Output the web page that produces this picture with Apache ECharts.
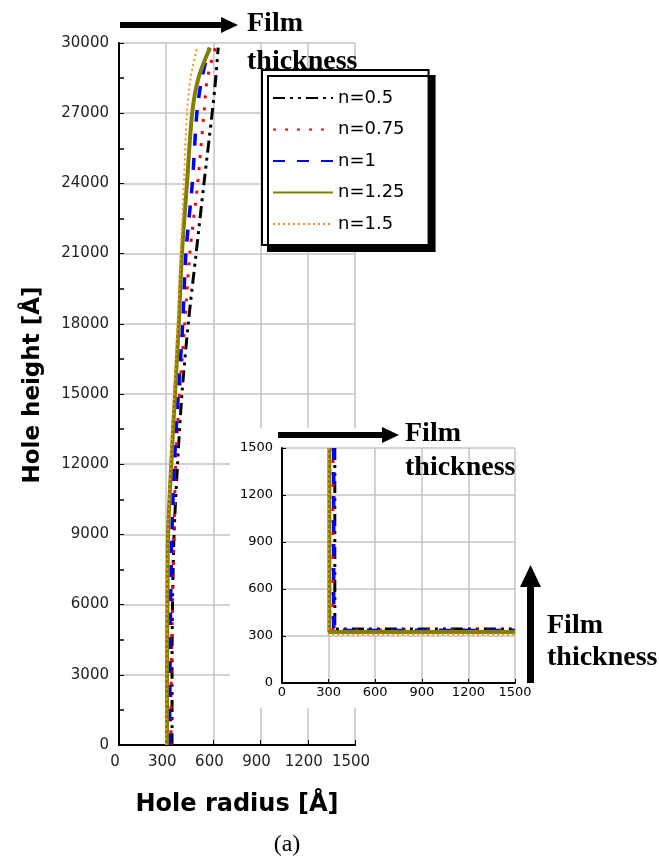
<!DOCTYPE html>
<html>
<head>
<meta charset="utf-8">
<script src="https://cdn.jsdelivr.net/npm/echarts@6/dist/echarts.min.js"></script>
<style>
  html, body { margin: 0; padding: 0; background: #fff; }
  #chart { width: 659px; height: 857px; }
</style>
</head>
<body>
<div id="chart"></div>
<script>
// main plot: hole height (Å) vs hole radius (Å) for each n
const heights = [0, 3000, 6000, 9000, 12000, 15000, 18000, 21000, 24000, 27000, 28500, 29800];
const radiusN05 = [337, 337, 340, 350, 372, 400, 440, 490, 540, 592, 615, 630];
const radiusN075 = [330, 332, 340, 350, 360, 385, 418, 450, 500, 540, 562, 612];
const radiusN1 = [322, 324, 328, 336, 352, 377, 405, 425, 466, 495, 527, 575];
const radiusN125 = [305, 305, 308, 312, 332, 356, 380, 400, 432, 465, 505, 578];
const radiusN15 = [300, 302, 305, 310, 328, 350, 372, 392, 412, 432, 455, 496];

// inset: wall radius and floor height for each n
const insetTop = 1500;
const insetWall = [340, 328, 333, 305, 300];
const insetFloor = [345, 338, 335, 325, 310];

const names = ['n=0.5', 'n=0.75', 'n=1', 'n=1.25', 'n=1.5'];
const mainRadius = [radiusN05, radiusN075, radiusN1, radiusN125, radiusN15];
const xTicks = [0, 300, 600, 900, 1200, 1500];

const styles = [
    { color: '#000000', width: 3, type: [12, 5, 3, 5, 3, 5] },
    { color: '#ff0000', width: 3, type: [3, 9] },
    { color: '#0000ff', width: 3.5, type: [12, 12] },
    { color: '#808000', width: 4, type: 'solid' },
    { color: '#ff8c1a', width: 2, type: [2, 3] }
];

const chart = echarts.init(document.getElementById('chart'));

const series = [];
names.forEach((name, i) => {
    series.push({
        name: name,
        type: 'line',
        xAxisIndex: 0,
        yAxisIndex: 0,
        symbol: 'none',
        smooth: 0.3,
        color: styles[i].color,
        lineStyle: styles[i],
        data: heights.map((h, k) => [mainRadius[i][k], h]),
        z: 2
    });
});
names.forEach((name, i) => {
    series.push({
        name: name,
        type: 'line',
        xAxisIndex: 1,
        yAxisIndex: 1,
        symbol: 'none',
        color: styles[i].color,
        lineStyle: styles[i],
        data: [
            [insetWall[i], insetTop],
            [insetWall[i], insetFloor[i]],
            [xTicks[xTicks.length - 1], insetFloor[i]]
        ],
        z: 12
    });
});

const plain = v => String(v);
const labelFont = { fontFamily: 'DejaVu Sans', color: '#222', formatter: plain };
const gridLine = { lineStyle: { color: '#c4c4c4', width: 1.5 } };
const blackAxis = { lineStyle: { color: '#000', width: 2 } };

function arrow(points) {
    return { type: 'polygon', shape: { points: points }, style: { fill: '#000' }, z: 1 };
}
function label(text, x, y, z) {
    return {
        type: 'text', x: x, y: y, z: z,
        style: {
            text: text, fill: '#000',
            font: 'bold 28px "Liberation Serif"',
            verticalAlign: 'middle'
        }
    };
}

const option = {
    animation: false,
    backgroundColor: '#fff',
    grid: [
        { left: 119, right: 304, top: 43, bottom: 112 },
        { left: 282, right: 144, top: 448, bottom: 174 }
    ],
    legend: {
        data: names,
        orient: 'vertical',
        left: 262,
        top: 70,
        padding: [19, 24, 12, 10],
        itemWidth: 60,
        itemHeight: 14,
        itemGap: 13.5,
        backgroundColor: '#fff',
        borderColor: '#000',
        borderWidth: 2,
        shadowColor: '#000',
        shadowBlur: 0,
        shadowOffsetX: 6,
        shadowOffsetY: 6,
        itemStyle: { opacity: 0 },
        textStyle: { fontFamily: 'DejaVu Sans', fontSize: 18, color: '#000' }
    },
    xAxis: [
        {
            gridIndex: 0, type: 'value', min: 0, max: 1500, interval: 300,
            axisLine: blackAxis,
            axisTick: { show: true, inside: true, length: 5, lineStyle: { color: '#000' } },
            splitLine: gridLine,
            axisLabel: Object.assign({ fontSize: 15, margin: 10, padding: [0, 8, 0, 0] }, labelFont),
            name: 'Hole radius [Å]',
            nameLocation: 'middle',
            nameGap: 48,
            nameTextStyle: { fontFamily: 'DejaVu Sans', fontWeight: 'bold', fontSize: 24, color: '#000' }
        },
        {
            gridIndex: 1, type: 'value', min: 0, max: 1500, interval: 300, z: 11,
            axisLine: blackAxis,
            axisTick: { show: true, inside: true, length: 4, lineStyle: { color: '#000' } },
            splitLine: gridLine,
            axisLabel: { fontSize: 13, margin: 3, color: '#000', fontFamily: 'DejaVu Sans', formatter: plain }
        }
    ],
    yAxis: [
        {
            gridIndex: 0, type: 'value', min: 0, max: 30000, interval: 3000,
            axisLine: blackAxis,
            axisTick: { show: true, inside: true, length: 5, lineStyle: { color: '#000' } },
            minorTick: { show: true, splitNumber: 2, length: 5, lineStyle: { color: '#000', width: 1.5 } },
            splitLine: gridLine,
            axisLabel: Object.assign({ fontSize: 15, margin: 10 }, labelFont),
            name: 'Hole height [Å]',
            nameLocation: 'middle',
            nameRotate: 90,
            nameGap: 74,
            nameTextStyle: {
                fontFamily: 'DejaVu Sans', fontWeight: 'bold', fontSize: 23, color: '#000',
                padding: [0, 0, 0, 18]
            }
        },
        {
            gridIndex: 1, type: 'value', min: 0, max: 1500, interval: 300, z: 11,
            axisLine: blackAxis,
            axisTick: { show: true, inside: true, length: 4, lineStyle: { color: '#000' } },
            splitLine: gridLine,
            axisLabel: { fontSize: 13, margin: 9, color: '#000', fontFamily: 'DejaVu Sans', formatter: plain }
        }
    ],
    graphic: [
        // white patch behind the inset
        { type: 'rect', shape: { x: 230, y: 428, width: 429, height: 280 }, style: { fill: '#fff' }, z: 10 },
        // top arrow + label
        arrow([[120, 22], [221, 22], [221, 17], [238, 25], [221, 33], [221, 28], [120, 28]]),
        label('Film', 247, 24, 1),
        label('thickness', 247, 62, 1),
        // inset arrows + labels
        Object.assign(arrow([[278, 432], [382, 432], [382, 427], [399, 435], [382, 443], [382, 438], [278, 438]]), { z: 13 }),
        label('Film', 405, 434, 13),
        label('thickness', 405, 468, 13),
        Object.assign(arrow([[527, 683], [527, 587], [520, 587], [530.5, 565], [541, 587], [534, 587], [534, 683]]), { z: 13 }),
        label('Film', 547, 626, 13),
        label('thickness', 547, 658, 13),
        {
            type: 'text', x: 287, y: 845, z: 1,
            style: { text: '(a)', fill: '#000', font: '24px "Liberation Serif"', align: 'center', verticalAlign: 'middle' }
        }
    ],
    series: series
};

chart.setOption(option);
</script>
</body>
</html>
